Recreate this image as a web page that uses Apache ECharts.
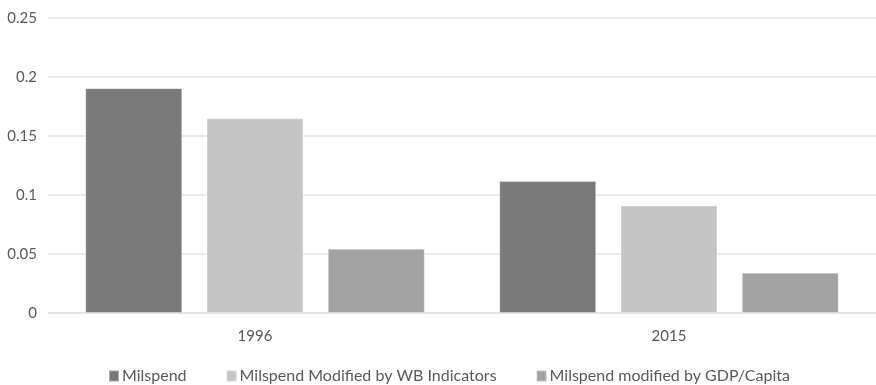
<!DOCTYPE html>
<html>
<head>
<meta charset="utf-8">
<script src="https://cdn.jsdelivr.net/npm/echarts@6/dist/echarts.min.js"></script>
<style>
  html, body { margin: 0; padding: 0; background: #fff; }
  #chart { width: 876px; height: 385px; }
</style>
</head>
<body>
<div id="chart"></div>
<script>
// Years on the category axis
const years = ['1996', '2015'];

// Series values per year
const milspend = [0.1905, 0.1118];
const milspendWB = [0.1650, 0.0910];
const milspendGDP = [0.0545, 0.0342];

const seriesNames = [
  'Milspend',
  'Milspend Modified by WB Indicators',
  'Milspend modified by GDP/Capita'
];
const seriesColors = ['#7a7a7a', '#c4c5c4', '#a2a2a2'];

// Value axis range and step
const yTicks = { min: 0, max: 0.25, interval: 0.05 };

const font = 'Lato, "Open Sans", sans-serif';
const textColor = '#595959';

function barSeries(name, data, color) {
  return {
    name: name,
    type: 'bar',
    data: data,
    barWidth: 97,
    barGap: '25%',
    itemStyle: { color: color, borderColor: 'rgba(255,255,255,0.35)', borderWidth: 1 },
    emphasis: { disabled: true }
  };
}

const chart = echarts.init(document.getElementById('chart'), null, { renderer: 'canvas' });
chart.setOption({
  animation: false,
  backgroundColor: '#ffffff',
  grid: { left: 48, right: -2, top: 18, bottom: 72 },
  legend: {
    top: 363,
    left: 103,
    itemWidth: 10,
    itemHeight: 11,
    itemGap: 39,
    icon: 'rect',
    textStyle: { color: textColor, fontSize: 16, fontFamily: font, padding: [0, 0, 0, -2] },
    data: seriesNames
  },
  xAxis: {
    type: 'category',
    data: years,
    axisLine: { show: true, lineStyle: { color: '#e3e3e3', width: 1.5 } },
    axisTick: { show: false },
    axisLabel: { color: textColor, fontSize: 15, fontFamily: font, margin: 16 }
  },
  yAxis: {
    type: 'value',
    min: yTicks.min,
    max: yTicks.max,
    interval: yTicks.interval,
    axisLine: { show: false },
    axisTick: { show: false },
    splitLine: { lineStyle: { color: '#e3e3e3', width: 1.5 } },
    axisLabel: { color: textColor, fontSize: 15, fontFamily: font, margin: 11 }
  },
  series: [
    barSeries(seriesNames[0], milspend, seriesColors[0]),
    barSeries(seriesNames[1], milspendWB, seriesColors[1]),
    barSeries(seriesNames[2], milspendGDP, seriesColors[2])
  ]
});
</script>
</body>
</html>
